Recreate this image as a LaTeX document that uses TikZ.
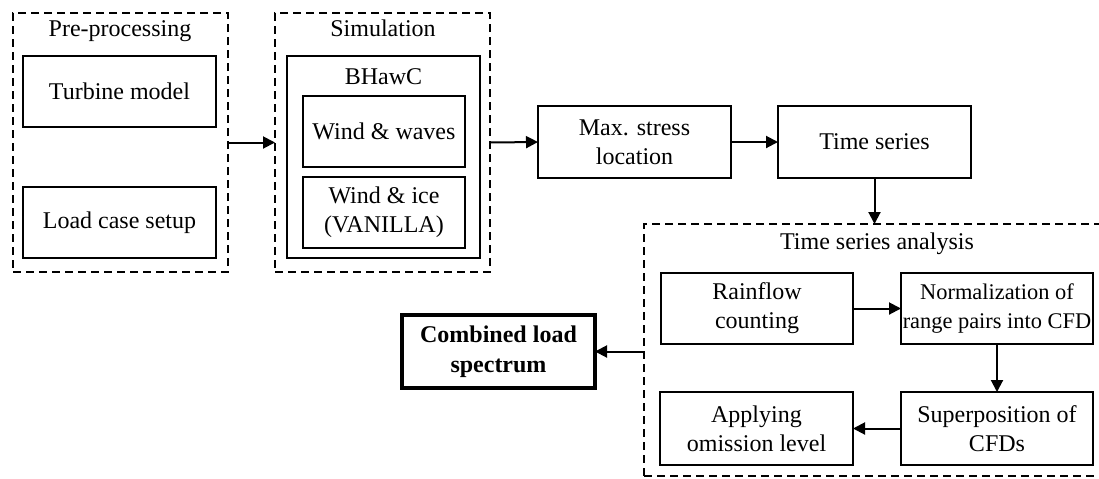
\documentclass[tikz,border=0pt]{standalone}
\usepackage{fontspec}
\setmainfont{Liberation Serif}
\usetikzlibrary{arrows.meta}
\begin{document}
\begin{tikzpicture}[x=0.5pt,y=-0.5pt,
  every node/.style={font=\fontsize{12}{14.5}\selectfont, inner sep=0pt, outer sep=0pt},
  blk/.style={draw, line width=1pt, align=center, minimum width=#1},
  blk/.default=96.5pt,
  grp/.style={draw, dash pattern=on 4pt off 2.5pt, line width=1pt},
  lbl/.style={anchor=base},
  arr/.style={-{Triangle[length=6pt,width=6pt]}, line width=1pt}
]
\useasboundingbox (0,0) rectangle (1099,478);
% groups
\node[grp, minimum width=107.5pt, minimum height=129.5pt] (pre) at (120.5,142.5) {};
\node[lbl] (prel) at (120,36) {Pre-processing};
\node[blk, minimum height=35.5pt] (turb) at (119.5,91.5) {Turbine model};
\node[blk, minimum height=35.5pt] (load) at (119.5,222.5) {Load case setup};

\node[grp, minimum width=107.5pt, minimum height=129.5pt] (sim) at (382.5,142.5) {};
\node[lbl] (siml) at (383,36) {Simulation};
\node[blk, minimum height=101pt] (bh) at (383.5,157) {};
\node[lbl] (bhl) at (383.5,84) {BHawC};
\node[blk=81pt, minimum height=35.5pt] (waves) at (384,131.5) {Wind \& waves};
\node[blk=81pt, minimum height=35.5pt] (ice) at (384,212.5) {Wind \& ice\\(VANILLA)};

\node[blk, minimum height=36pt] (maxs) at (634.5,142) {Max. stress\\location};
\node[blk, minimum height=36pt] (ts) at (874.5,142) {Time series};

\node[grp, minimum width=240pt, minimum height=126pt] (tsa) at (884,350) {};
\node[lbl] (tsal) at (877,249) {Time series analysis};
\node[blk=96pt, minimum height=35.5pt] (rain) at (757,308.5) {Rainflow\\counting};
\node[blk=96pt, minimum height=35.5pt, font=\fontsize{11.2}{14.5}\selectfont] (norm) at (997,308.5) {Normalization of\\range pairs into CFD};
\node[blk=96pt, minimum height=36.5pt] (sup) at (997,428.5) {Superposition of\\CFDs};
\node[blk, minimum height=36.5pt] (app) at (756.5,428.5) {Applying\\omission level};

\node[draw, line width=1.75pt, align=center, minimum width=96.5pt, minimum height=36.5pt, font=\fontsize{12}{15}\selectfont\bfseries] (comb) at (498.5,351.5) {Combined load\\spectrum};

% connectors
\draw[arr] (pre.east) -- (sim.west);
\draw[arr] (sim.east) -- (maxs.west);
\draw[arr] (maxs.east) -- (ts.west);
\draw[arr] (ts.south) -- (ts.south |- tsa.north);
\draw[arr] (rain.east) -- (norm.west);
\draw[arr] (norm.south) -- (sup.north);
\draw[arr] (sup.west) -- (app.east);
\draw[arr] (tsa.west |- comb.east) -- (comb.east);
\end{tikzpicture}
\end{document}
